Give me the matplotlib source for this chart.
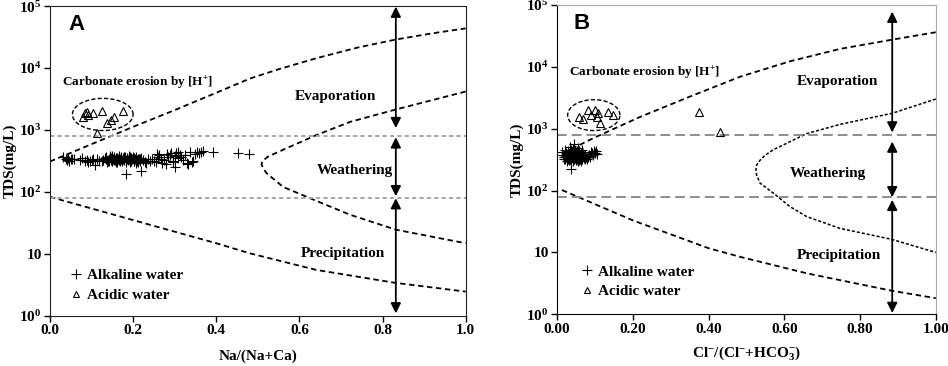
import numpy as np
from matplotlib import rc, pyplot as plt
from matplotlib.lines import Line2D
from matplotlib.ticker import NullLocator

# Plot settings
rc('font', family = 'serif', serif = ['Liberation Serif'], weight = 'bold', size = 11)
rc('mathtext', fontset = 'custom', rm = 'Liberation Serif:bold', it = 'Liberation Serif:bold', bf = 'Liberation Serif:bold')
rc('axes', labelweight = 'bold')

# Data: panel A (Na/(Na+Ca)) -------------------------------------------------------------------------------------- #
alk_a_x = [0.032, 0.038, 0.041, 0.044, 0.047, 0.050, 0.053, 0.058, 0.072, 0.078,
           0.085, 0.088, 0.092, 0.096, 0.100, 0.104, 0.108, 0.112, 0.118, 0.124,
           0.128, 0.132, 0.136, 0.138, 0.141, 0.144, 0.146, 0.148, 0.150, 0.152,
           0.155, 0.157, 0.160, 0.162, 0.164, 0.166, 0.168, 0.170, 0.172, 0.174,
           0.176, 0.178, 0.180, 0.182, 0.183, 0.185, 0.187, 0.189, 0.190, 0.192,
           0.194, 0.196, 0.198, 0.200, 0.202, 0.204, 0.206, 0.208, 0.210, 0.212,
           0.214, 0.216, 0.218, 0.220, 0.224, 0.228, 0.232, 0.236, 0.240, 0.245,
           0.250, 0.255, 0.257, 0.260, 0.263, 0.266, 0.270, 0.274, 0.278, 0.281,
           0.284, 0.288, 0.292, 0.295, 0.297, 0.300, 0.301, 0.304, 0.307, 0.309,
           0.312, 0.316, 0.320, 0.325, 0.329, 0.333, 0.337, 0.341, 0.345, 0.349,
           0.353, 0.358, 0.363, 0.369, 0.393, 0.453, 0.480,
           0.134, 0.143, 0.153, 0.161, 0.169, 0.177, 0.186, 0.195, 0.203, 0.211,
           0.139, 0.149, 0.159, 0.167, 0.175, 0.184, 0.193, 0.201, 0.209, 0.217]
alk_a_tds = [360, 345, 330, 350, 320, 340, 335, 345, 330, 350,
             315, 330, 300, 310, 325, 335, 270, 345, 320, 310,
             330, 350, 370, 300, 340, 385, 325, 355, 310, 340,
             365, 330, 350, 300, 345, 375, 320, 340, 360, 310,
             345, 330, 365, 305, 195, 350, 325, 380, 340, 300,
             355, 320, 340, 370, 310, 345, 290, 360, 330, 300,
             340, 315, 355, 220, 330, 300, 290, 345, 310, 335,
             320, 300, 410, 370, 395, 340, 290, 330, 285, 415,
             360, 400, 430, 310, 305, 380, 255, 420, 350, 445,
             400, 370, 330, 390, 290, 280, 445, 300, 320, 410,
             435, 420, 440, 450, 445, 420, 405,
             345, 320, 330, 355, 335, 360, 340, 330, 350, 345,
             310, 375, 305, 325, 350, 315, 360, 320, 310, 335]
acid_a_x = [0.080, 0.084, 0.090, 0.092, 0.104, 0.124, 0.138, 0.148, 0.155, 0.176, 0.112]
acid_a_tds = [1620, 1860, 1950, 1740, 1900, 2040, 1290, 1450, 1620, 2040, 890]

# Gibbs boundaries A (x, TDS)
a_upper_x = [0.0, 0.1, 0.2, 0.3, 0.4, 0.481, 0.55, 0.642, 0.74, 0.832, 0.92, 1.0]
a_upper_tds = [309, 589, 1122, 2089, 3981, 6761, 9550, 14450, 21380, 28840, 36310, 43650]
a_bend_x = [1.0, 0.832, 0.722, 0.642, 0.561, 0.525, 0.511, 0.509, 0.512, 0.521, 0.561, 0.642, 0.722, 0.832, 1.0]
a_bend_tds = [4169, 2138, 1349, 832, 479, 372, 316, 282, 245, 200, 120, 71, 42.7, 24.5, 14.8]
a_lower_x = [0.0, 0.2, 0.4, 0.48, 0.64, 0.83, 1.0]
a_lower_tds = [83, 35, 14.8, 10.2, 5.5, 3.4, 2.45]

# Data: panel B (Cl/(Cl+HCO3)) ------------------------------------------------------------------------------------ #
alk_b_x = [0.012, 0.015, 0.018, 0.020, 0.022, 0.024, 0.025, 0.027, 0.028, 0.030,
           0.031, 0.032, 0.033, 0.034, 0.035, 0.036, 0.036, 0.037, 0.038, 0.039,
           0.040, 0.041, 0.042, 0.043, 0.044, 0.045, 0.046, 0.047, 0.048, 0.049,
           0.050, 0.051, 0.052, 0.053, 0.054, 0.055, 0.056, 0.057, 0.058, 0.059,
           0.060, 0.061, 0.062, 0.063, 0.064, 0.065, 0.066, 0.067, 0.068, 0.070,
           0.071, 0.073, 0.075, 0.077, 0.079, 0.081, 0.083, 0.085, 0.087, 0.090,
           0.092, 0.095, 0.097, 0.100, 0.103, 0.105, 0.026, 0.034, 0.043, 0.052,
           0.023, 0.029, 0.038, 0.046, 0.055, 0.063, 0.019, 0.033, 0.048, 0.058]
alk_b_tds = [425, 380, 350, 460, 330, 400, 300, 370, 440, 340,
             390, 310, 510, 420, 360, 225, 290, 450, 330, 380,
             350, 410, 300, 470, 330, 380, 560, 340, 420, 310,
             390, 350, 440, 320, 370, 480, 300, 400, 340, 430,
             360, 320, 410, 380, 300, 450, 350, 330, 390, 360,
             340, 370, 320, 350, 330, 360, 345, 380, 355, 420,
             400, 380, 430, 410, 440, 385, 350, 330, 360, 345,
             360, 320, 400, 330, 350, 340, 320, 370, 360, 310]
acid_b_x = [0.059, 0.069, 0.081, 0.090, 0.101, 0.107, 0.106, 0.114, 0.134, 0.149, 0.374, 0.431]
acid_b_tds = [1550, 1410, 2000, 1660, 2000, 1780, 1550, 1260, 1860, 1660, 1860, 870]

b_upper_x = [0.017, 0.1, 0.219, 0.351, 0.483, 0.615, 0.747, 0.885, 1.0]
b_upper_tds = [407, 724, 1549, 3311, 6918, 12300, 19500, 27540, 36310]
b_bend_x = [1.0, 0.885, 0.747, 0.659, 0.571, 0.549, 0.536, 0.527, 0.525, 0.527, 0.536, 0.571, 0.615, 0.659, 0.747,
            0.885, 1.0]
b_bend_tds = [3020, 1778, 1175, 832, 457, 372, 309, 257, 214, 178, 132, 91, 55, 38, 24.5, 16.2, 10.0]
b_lower_x = [0.013, 0.2, 0.4, 0.483, 0.659, 0.884, 1.0]
b_lower_tds = [102, 33, 11.7, 8.5, 4.6, 2.4, 1.82]


def ellipse(ax, cx, cy, rx, ry):
    # ellipse drawn in log space of the y axis
    t = np.linspace(0, 2 * np.pi, 200)
    ax.plot(cx + rx * np.cos(t), 10 ** (cy + ry * np.sin(t)), color = 'k', lw = 1.0, dashes = (3, 1.6))


def arrow(ax, x, y0, y1):
    ax.annotate('', xy = (x, y1), xytext = (x, y0),
                arrowprops = dict(arrowstyle = '<|-|>,head_length=0.6,head_width=0.3', color = 'k', lw = 1.3,
                                  mutation_scale = 10, shrinkA = 0, shrinkB = 0))


def panel(ax, letter, alk_x, alk_y, acid_x, acid_y, curves, bend_dash, grey, grey_dash, arrows_x, arrows, txt, ell,
          leg_anchor):
    ax.set_yscale('log')
    ax.set_xlim(0, 1)
    ax.set_ylim(1, 1e5)
    for cx, cy in curves:
        ax.plot(cx, cy, color = 'k', lw = 1.3, dashes = (3, 2))
    ax.plot(bend_dash[0], bend_dash[1], color = 'k', lw = bend_dash[3], dashes = bend_dash[2])
    for yh in (800, 80):
        ax.axhline(yh, color = grey, lw = 1.4, dashes = grey_dash)
    for y0, y1 in arrows:
        arrow(ax, arrows_x, y0, y1)
    ax.plot(alk_x, alk_y, '+', color = 'k', ms = 6.5, mew = 0.8)
    ax.plot(acid_x, acid_y, '^', mfc = 'none', mec = 'k', ms = 5.5, mew = 0.8)
    ellipse(ax, *ell)
    for s, x, y, fs in txt:
        ax.text(x, y, s, ha = 'center', va = 'center', fontsize = fs)
    ax.text(0.044, 0.94, letter, transform = ax.transAxes, family = 'Liberation Sans', fontsize = 16,
            weight = 'bold', va = 'center', ha = 'left')
    ax.set_yticks([1, 10, 100, 1e3, 1e4, 1e5])
    ax.set_yticklabels(['$10^{0}$', '10', '$10^{2}$', '$10^{3}$', '$10^{4}$', '$10^{5}$'])
    ax.yaxis.set_minor_locator(NullLocator())
    ax.tick_params(direction = 'out', length = 4, width = 1, pad = 2, labelsize = 11)
    ax.set_ylabel('TDS(mg/L)', labelpad = 2)
    handles = [Line2D([], [], ls = '', marker = '+', color = 'k', ms = 6.5, mew = 0.8),
               Line2D([], [], ls = '', marker = '^', mfc = 'none', mec = 'k', ms = 5, mew = 0.8)]
    ax.legend(handles, ['Alkaline water', 'Acidic water'], loc = 'lower left', bbox_to_anchor = leg_anchor,
              frameon = False, handlelength = 0.6, handletextpad = 0.45, labelspacing = 0.4, fontsize = 11)


fig = plt.figure(figsize = (9.48, 3.66), dpi = 100)
axA = fig.add_axes([0.0527, 0.1374, 0.4385, 0.846])
axB = fig.add_axes([0.5876, 0.1413, 0.3995, 0.845])

panel(axA, 'A', alk_a_x, alk_a_tds, acid_a_x, acid_a_tds,
      [(a_upper_x, a_upper_tds), (a_lower_x, a_lower_tds)], (a_bend_x, a_bend_tds, (3, 2), 1.3),
      '#a8a8a8', (2.2, 1.6), 0.832, [(9.8e4, 1070), (760, 85), (79, 1.09)],
      [('Carbonate erosion by [H$^{+}$]', 0.21, 5700, 9.5), ('Evaporation', 0.686, 3470, 11),
       ('Weathering', 0.734, 219, 11), ('Precipitation', 0.704, 10, 11)],
      (0.127, 3.25, 0.073, 0.26), (0.018, 0.0))
axA.set_xticks(np.arange(0, 1.01, 0.2))
axA.set_xticklabels(['0.0', '0.2', '0.4', '0.6', '0.8', '1.0'])
axA.set_xlabel('Na/(Na+Ca)', labelpad = 9)
for s in axA.spines.values():
    s.set_color('#222222')

panel(axB, 'B', alk_b_x, alk_b_tds, acid_b_x, acid_b_tds,
      [(b_upper_x, b_upper_tds), (b_lower_x, b_lower_tds)], (b_bend_x, b_bend_tds, (2, 1.3), 1.1),
      '#8c8c8c', (5, 2.6), 0.885, [(7.8e4, 870), (620, 78), (71, 1.05)],
      [('Carbonate erosion by [H$^{+}$]', 0.231, 7900, 9.5), ('Evaporation', 0.74, 5900, 11),
       ('Weathering', 0.716, 190, 11), ('Precipitation', 0.745, 8.9, 11)],
      (0.097, 3.22, 0.069, 0.25), (0.03, 0.007))
axB.set_xticks(np.arange(0, 1.01, 0.2))
axB.set_xticklabels(['0.00', '0.20', '0.40', '0.60', '0.80', '1.00'])
axB.set_xlabel('Cl$^{-}$/(Cl$^{-}$+HCO$_{3}^{-}$)', labelpad = 6)
axB.spines['top'].set_color('#a8a8a8')
axB.spines['right'].set_color('#a8a8a8')

plt.savefig('out.png', dpi = 100)
